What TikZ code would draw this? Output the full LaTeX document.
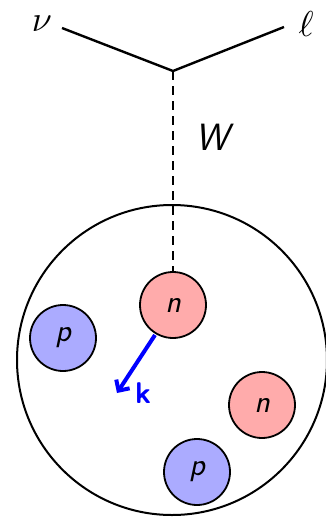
\documentclass[tikz,border=0pt]{standalone}
\usetikzlibrary{arrows.meta}
\tikzset{
  nuc/.style={circle, draw=black, line width=1.8pt, minimum size=66pt, inner sep=0pt,
    font=\fontsize{32}{36}\selectfont\sffamily\itshape},
  neutron/.style={nuc, fill=red!33},
  proton/.style={nuc, fill=blue!33},
  leg/.style={line width=2.4pt},
  lbl/.style={scale=3.6},
}
\begin{document}
\begin{tikzpicture}[x=1pt,y=-1pt]
\useasboundingbox (0,0) rectangle (326,520);
\node[circle, draw, line width=2pt, minimum size=310pt, inner sep=0pt] (nucleus) at (172,360) {};
\coordinate (v) at (173,71);
\coordinate (nuend) at (62,28);
\coordinate (lend) at (284,27);
\node[lbl] (nu) at (42,24) {$\nu$};
\node[lbl] (ell) at (306,24) {$\ell$};
\draw[leg] (nuend) -- (v) -- (lend);
\node[neutron] (n1) at (173,305) {n};
\node[proton] (p1) at (63,338) {p};
\node[neutron] (n2) at (262,405) {n};
\node[proton] (p2) at (197,472) {p};
\draw[dashed, line width=1.4pt, dash pattern=on 9pt off 6pt] (v) -- (n1.north);
\node[font=\fontsize{38}{42}\selectfont\sffamily\itshape] (W) at (212,137) {W};
\coordinate (kend) at (117,393);
\draw[blue, line width=4pt, -{Straight Barb[length=8pt,width=16pt]}] (155,335) -- (kend);
\node[text=blue, font=\fontsize{30}{34}\selectfont\sffamily\bfseries] (k) at (143,393) {k};
\end{tikzpicture}
\end{document}
